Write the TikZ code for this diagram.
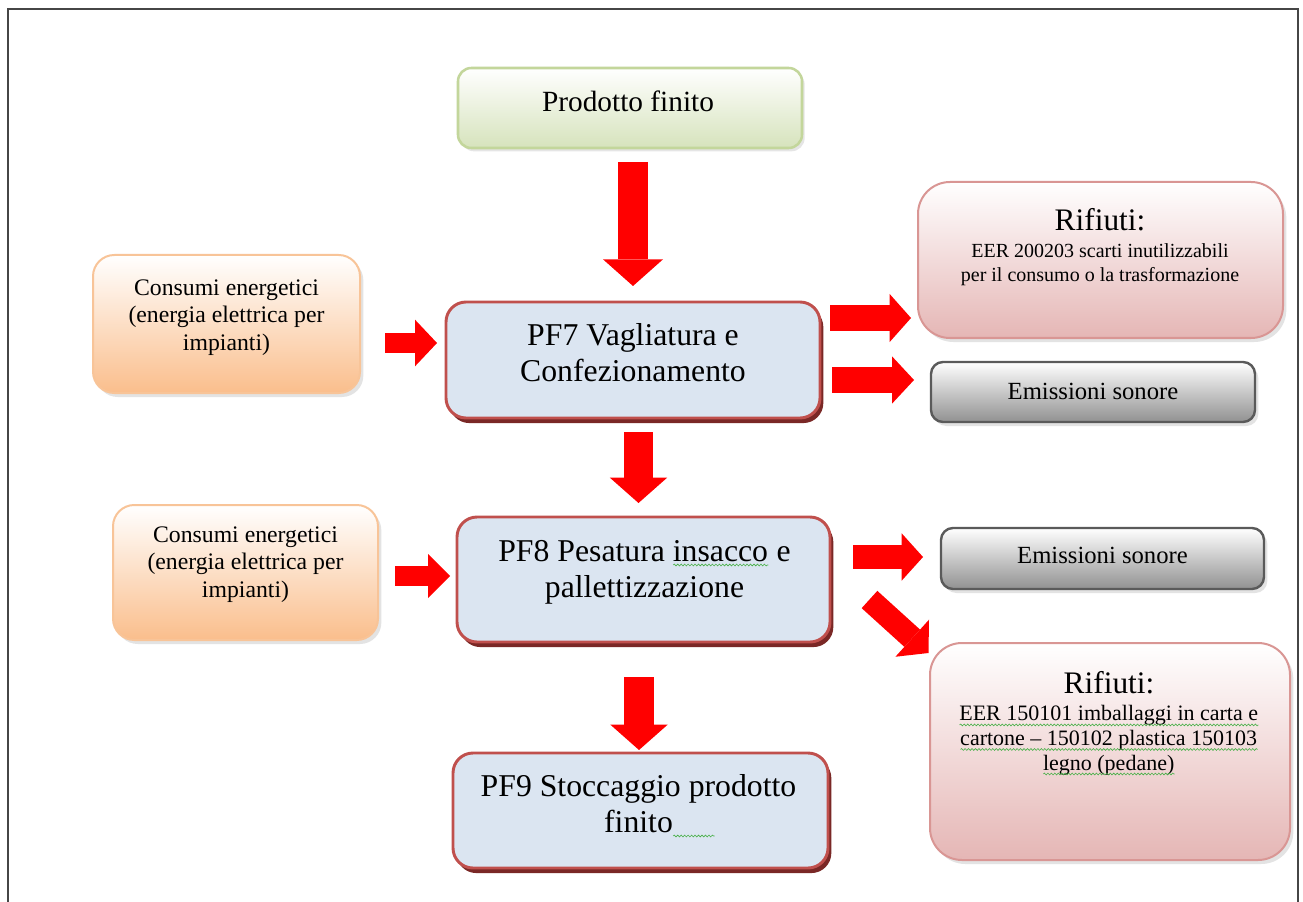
\documentclass[tikz,border=0pt]{standalone}
\usepackage{fontspec}
\setmainfont{Liberation Serif}
\usetikzlibrary{arrows.meta,shadows,calc,decorations.pathmorphing}

\definecolor{arrowred}{RGB}{255,0,0}
\definecolor{pffill}{RGB}{219,229,241}
\definecolor{pfedge}{RGB}{192,80,77}
\definecolor{pfshadow}{RGB}{122,40,38}
\definecolor{greenedge}{RGB}{195,214,155}
\definecolor{greenfill}{RGB}{214,227,188}
\definecolor{orangeedge}{RGB}{248,196,152}
\definecolor{orangefill}{RGB}{250,190,140}
\definecolor{pinkedge}{RGB}{217,150,148}
\definecolor{pinkfill}{RGB}{229,182,181}
\definecolor{grayedge}{RGB}{90,90,90}
\definecolor{grayfill}{RGB}{145,145,145}
\definecolor{graymid}{RGB}{222,222,222}
\definecolor{framegray}{RGB}{70,70,70}
\definecolor{squiggreen}{RGB}{70,175,70}

% wavy proofing underline below a piece of text
\newlength\squigwd
\tikzset{squigline/.style={squiggreen,line width=0.45pt,decorate,
  decoration={snake,amplitude=0.7pt,segment length=2.6pt}}}
\newcommand\squig[1]{\settowidth\squigwd{#1}\rlap{#1}%
  \tikz[baseline=0pt]{\draw[squigline] (0pt,-3pt) -- (\squigwd,-3pt);}}
\newcommand\squigtail[1]{\rlap{\tikz[baseline=0pt]{\draw[squigline] (1pt,-3pt) -- (#1,-3pt);}}}

\tikzset{
  box/.style={rectangle,inner sep=0pt,outer sep=0pt},
  prodbox/.style={box,draw=greenedge,line width=1.9pt,rounded corners=10pt,
    top color=white,bottom color=greenfill,
    drop shadow={shadow xshift=2pt,shadow yshift=-2.5pt,opacity=0.2}},
  pfbox/.style={box,draw=pfedge,fill=pffill,line width=2.2pt,rounded corners=15pt,
    drop shadow={shadow xshift=2.5pt,shadow yshift=-3.8pt,fill=pfshadow,opacity=1}},
  conbox/.style={box,draw=orangeedge,line width=1.5pt,rounded corners=16pt,
    top color=white,bottom color=orangefill,
    drop shadow={shadow xshift=2.5pt,shadow yshift=-3pt,opacity=0.22}},
  rifbox/.style={box,draw=pinkedge,line width=1.5pt,rounded corners=24pt,
    top color=white,bottom color=pinkfill,
    drop shadow={shadow xshift=2.5pt,shadow yshift=-3pt,opacity=0.22}},
  emibox/.style={box,draw=grayedge,line width=1.8pt,rounded corners=9pt,
    top color=white,middle color=graymid,bottom color=grayfill,
    drop shadow={shadow xshift=2.5pt,shadow yshift=-3pt,opacity=0.22}},
  % multi-line texts are placed by the baseline of their last line
  txt/.style={anchor=base,align=center,inner sep=0pt},
  pftext/.style={txt,font=\fontsize{23.8}{27}\selectfont},
  context/.style={txt,font=\fontsize{17.8}{20.6}\selectfont},
  riftitle/.style={txt,font=\fontsize{23.5}{28}\selectfont},
  emitext/.style={txt,font=\fontsize{18.5}{21}\selectfont},
  bigarrow/.style args={#1/#2/#3}{draw=arrowred,line width=#1,
    -{Triangle[length=#3,width=#2,line width=0pt]}},
}

\begin{document}
\begin{tikzpicture}[x=0.75pt,y=-0.75pt]
  \fill[white] (0,0) rectangle (1303,902);
  \useasboundingbox (0,0) rectangle (1303,902);
  % page frame
  \draw[framegray,line width=1.6pt] (8,905) -- (8,9) -- (1298,9) -- (1298,905);

  % boxes
  \node[prodbox,minimum width=258pt,minimum height=60pt] (prod) at (630,108) {};
  \node[pfbox,minimum width=280.5pt,minimum height=87pt] (pf7) at (633,360) {};
  \node[pfbox,minimum width=279.75pt,minimum height=93.75pt] (pf8) at (643.5,579.5) {};
  \node[pfbox,minimum width=281.25pt,minimum height=86.25pt] (pf9) at (640.5,810.5) {};
  \node[conbox,minimum width=200.25pt,minimum height=103.5pt] (con1) at (226.5,324) {};
  \node[conbox,minimum width=198.75pt,minimum height=101.25pt] (con2) at (245.5,572.5) {};
  \node[rifbox,minimum width=273.75pt,minimum height=117pt] (rif1) at (1100.5,260) {};
  \node[emibox,minimum width=243pt,minimum height=45pt] (emi1) at (1093,392) {};
  \node[emibox,minimum width=242.25pt,minimum height=45.75pt] (emi2) at (1102.5,558.5) {};
  \node[rifbox,minimum width=270pt,minimum height=162.75pt] (rif2) at (1110,751.5) {};

  % texts
  \node[txt,font=\fontsize{22}{26}\selectfont] (prodt) at (628,112) {Prodotto finito};
  \node[pftext] (pf7t) at (633,381) {PF7 Vagliatura e\\Confezionamento};
  \node[pftext] (pf8t) at (644.5,597) {PF8 Pesatura \squig{insacco} e\\pallettizzazione};
  \node[pftext] (pf9t) at (638.5,832) {PF9 Stoccaggio prodotto\\finito\squigtail{32pt}};
  \node[context] (con1t) at (226.5,350) {Consumi energetici\\(energia elettrica per\\impianti)};
  \node[context] (con2t) at (245.5,597) {Consumi energetici\\(energia elettrica per\\impianti)};
  \node[riftitle] (rif1t) at (1100,231) {Rifiuti:};
  \node[txt,font=\fontsize{15}{18}\selectfont] (rif1b) at (1100,282)
    {EER 200203 scarti inutilizzabili\\per il consumo o la trasformazione};
  \node[emitext] (emi1t) at (1093,399) {Emissioni sonore};
  \node[emitext] (emi2t) at (1102.5,563) {Emissioni sonore};
  \node[riftitle] (rif2t) at (1109,693) {Rifiuti:};
  \node[txt,font=\fontsize{16.5}{18.4}\selectfont] (rif2b) at (1109,770)
    {\squig{EER 150101 imballaggi in carta e}\\
     \squig{cartone -- 150102 plastica 150103}\\
     \squig{legno (pedane)}};

  % block arrows
  \draw[bigarrow=22.5pt/45pt/20pt] ($(prod.south)+(3,14)$) -- ($(pf7.north)+(0,-16)$);
  \draw[bigarrow=22pt/43pt/19pt] ($(pf7.south)+(5.5,14)$) -- ($(pf8.north)+(-5,-14)$);
  \draw[bigarrow=22pt/43pt/19pt] ($(pf8.south)+(-4.5,35)$) -- ($(pf9.north)+(-1.5,-3)$);
  \draw[bigarrow=14.5pt/35pt/16.5pt] ($(con1.east)+(25,19)$) -- ($(pf7.west)+(-9,-17)$);
  \draw[bigarrow=15pt/33pt/16.5pt] ($(con2.east)+(17,3.5)$) -- ($(pf8.west)+(-7,-3.5)$);
  \draw[bigarrow=19pt/36pt/16pt] ($(pf7.east)+(10,-42)$) -- ($(rif1.west)+(-7,58)$);
  \draw[bigarrow=19pt/35.5pt/16.5pt] ($(pf7.east)+(12,20)$) -- ($(emi1.west)+(-17,-12)$);
  \draw[bigarrow=17.5pt/35.5pt/16pt] ($(pf8.east)+(23,-22.5)$) -- ($(emi2.west)+(-18,-1.5)$);
  \draw[bigarrow=17.5pt/37.5pt/16.5pt] ($(pf8.east)+(39.5,20)$) -- ($(rif2.north west)+(-1.5,10)$);
\end{tikzpicture}
\end{document}
